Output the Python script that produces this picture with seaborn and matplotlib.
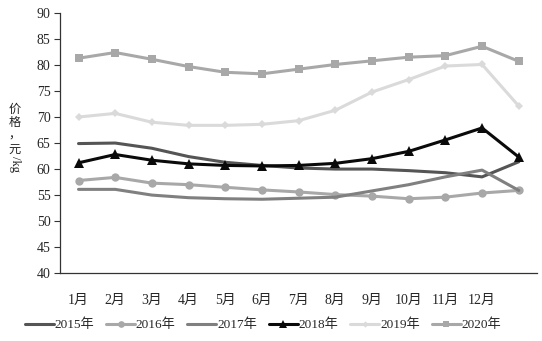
import matplotlib
matplotlib.use("Agg")
import matplotlib.pyplot as plt
from matplotlib.lines import Line2D
import seaborn as sns
import pandas as pd
import numpy as np

months = ["1月", "2月", "3月", "4月", "5月", "6月", "7月", "8月", "9月", "10月", "11月", "12月"]
years = ["2015年", "2016年", "2017年", "2018年", "2019年", "2020年"]

y2015 = [64.9, 65.0, 64.0, 62.4, 61.3, 60.7, 60.2, 60.0, 60.0, 59.7, 59.3, 58.5, 61.4]
y2016 = [57.8, 58.4, 57.3, 57.0, 56.5, 56.0, 55.6, 55.1, 54.8, 54.3, 54.6, 55.4, 55.9]
y2017 = [56.1, 56.1, 55.0, 54.5, 54.3, 54.2, 54.4, 54.6, 55.8, 57.0, 58.5, 59.8, 55.9]
y2018 = [61.2, 62.8, 61.7, 61.0, 60.7, 60.6, 60.7, 61.1, 62.0, 63.4, 65.6, 67.9, 62.3]
y2019 = [70.0, 70.7, 69.0, 68.4, 68.4, 68.6, 69.3, 71.3, 74.8, 77.2, 79.8, 80.1, 72.1]
y2020 = [81.3, 82.4, 81.1, 79.7, 78.6, 78.3, 79.2, 80.1, 80.8, 81.5, 81.8, 83.6, 80.7]

series = [y2015, y2016, y2017, y2018, y2019, y2020]
colors = ["#555555", "#a8a8a8", "#808080", "#0a0a0a", "#dadada", "#a8a8a8"]
markers = ["", "o", "", "^", "D", "s"]
msizes = [0, 6, 0, 6.5, 4, 6]

rows = []
for yr, vals in zip(years, series):
    for i, v in enumerate(vals):
        rows.append({"x": i, "value": v, "year": yr})
df = pd.DataFrame(rows)

sns.set_theme(style="white")
plt.rcParams["font.family"] = ["Liberation Serif", "Noto Sans CJK SC", "DejaVu Sans"]

fig = plt.figure(figsize=(5.42, 3.41), dpi=100)
ax = fig.add_axes([0.111, 0.199, 0.880, 0.763])

for yr, c, m, ms in zip(years, colors, markers, msizes):
    sub = df[df["year"] == yr]
    sns.lineplot(data=sub, x="x", y="value", ax=ax, color=c, linewidth=2.2,
                 marker=m if m else None, markersize=ms, markeredgewidth=0,
                 legend=False, errorbar=None)

ax.set_xlim(-0.5, 12.5)
ax.set_ylim(40, 90)
ax.set_yticks(np.arange(40, 91, 5))
ax.set_xticks(range(len(months)))
ax.set_xticklabels(months)
ax.set_xlabel("")
ax.set_ylabel("")
ax.tick_params(axis="y", left=True, length=4, width=0.8, color="#333333",
               labelsize=10, pad=3)
ax.tick_params(axis="x", bottom=False, labelsize=10, pad=9)
for s in ["top", "right"]:
    ax.spines[s].set_visible(False)
for s in ["left", "bottom"]:
    ax.spines[s].set_color("#333333")
    ax.spines[s].set_linewidth(0.9)

# vertical y-axis label
chars = ["价", "格", "，", "元"]
ypos = [109, 122, 135, 149]
for ch, yp in zip(chars, ypos):
    fig.text(15 / 542, 1 - yp / 341, ch, ha="center", va="center", fontsize=8.8,
             family=["Noto Sans CJK SC", "DejaVu Sans"], color="#222222")
fig.text(15 / 542, 1 - 164 / 341, "/kg", ha="center", va="center", fontsize=9,
         rotation=-90, color="#222222")

handles = []
for yr, c, m, ms in zip(years, colors, markers, msizes):
    handles.append(Line2D([0], [0], color=c, linewidth=2.2,
                          marker=m if m else None, markersize=ms * 0.8,
                          markeredgewidth=0))
fig.legend(handles, years, loc="center", bbox_to_anchor=(0.485, 1 - 325 / 341),
           ncol=6, frameon=False, fontsize=9.5, handlelength=2.2,
           handletextpad=0.05, columnspacing=0.9)

fig.savefig("out.png", dpi=100)
